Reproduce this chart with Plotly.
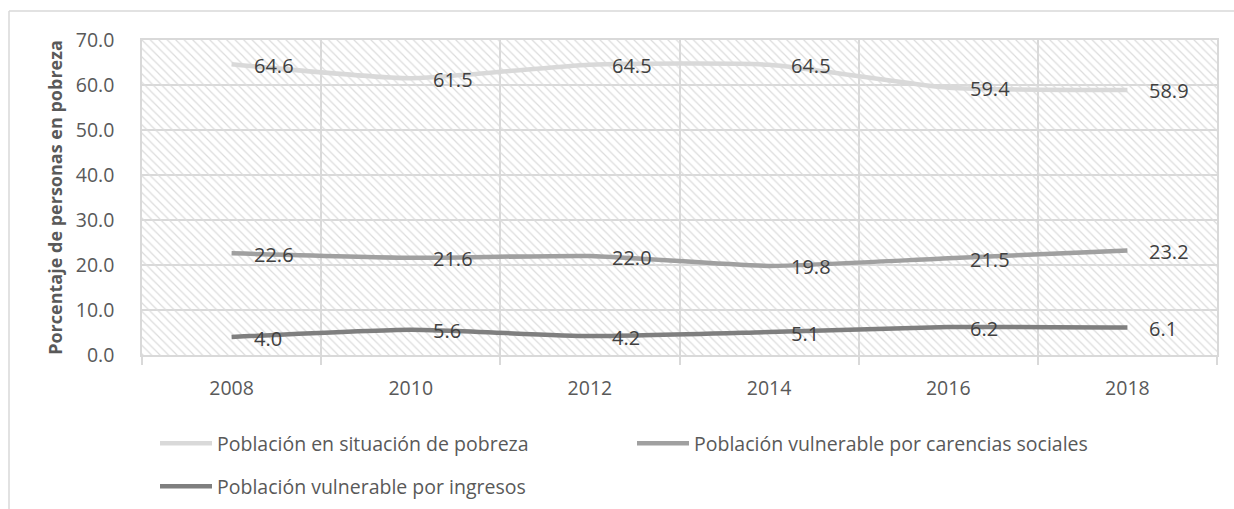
import plotly.graph_objects as go

# ---- data ----
years = ["2008", "2010", "2012", "2014", "2016", "2018"]
pobreza = [64.6, 61.5, 64.5, 64.5, 59.4, 58.9]
carencias = [22.6, 21.6, 22.0, 19.8, 21.5, 23.2]
ingresos = [4.0, 5.6, 4.2, 5.1, 6.2, 6.1]
series_names = [
    "Población en situación de pobreza",
    "Población vulnerable por carencias sociales",
    "Población vulnerable por ingresos",
]
y_title = "Porcentaje de personas en pobreza"
y_max = 70

# ---- layout constants ----
W, H = 1234, 509
ML, MR, MT, MB = 142, 17, 40, 154
PW, PH = W - ML - MR, H - MT - MB
FONT = "Open Sans"
FS = 19.5
TXT = "#595959"
LBL = "#404040"
GRID = "#d9d9d9"
colors = ["#d9d9d9", "#a0a0a0", "#7f7f7f"]


def px_x(px):
    return (px - ML) / PW


def px_y(py):
    return (H - MB - py) / PH


fig = go.Figure()

# hatched plot-area background
fig.add_trace(go.Bar(
    x=years, y=[y_max] * len(years), width=1,
    marker=dict(color="rgba(0,0,0,0)", line=dict(width=0),
                pattern=dict(shape="\\", fgcolor="#dcdcdc", size=6,
                             solidity=0.2, fillmode="replace")),
    showlegend=False, hoverinfo="skip",
))

legends = ["legend", "legend", "legend2"]
for name, vals, col, lg in zip(series_names, [pobreza, carencias, ingresos], colors, legends):
    fig.add_trace(go.Scatter(
        x=years, y=vals, name=name, mode="lines",
        line=dict(color=col, width=4.5, shape="spline", smoothing=0.5),
        legend=lg,
    ))
    for i, yv in enumerate(vals):
        fig.add_annotation(
            x=i, y=yv, text=f"{yv:.1f}", showarrow=False,
            xanchor="left", yanchor="middle", xshift=20, yshift=-1,
            font=dict(family=FONT, size=20, color=LBL),
        )

# outer frame (left and top edges)
fig.add_shape(type="line", xref="paper", yref="paper",
              x0=px_x(9), y0=px_y(H + 5), x1=px_x(9), y1=px_y(11),
              line=dict(color=GRID, width=1.5))
fig.add_shape(type="line", xref="paper", yref="paper",
              x0=px_x(9), y0=px_y(11), x1=px_x(W + 5), y1=px_y(11),
              line=dict(color=GRID, width=1.5))

fig.update_layout(
    width=W, height=H,
    margin=dict(l=ML, r=MR, t=MT, b=MB, autoexpand=False),
    paper_bgcolor="white", plot_bgcolor="white",
    font=dict(family=FONT, size=FS, color=TXT),
    bargap=0,
    showlegend=True,
    legend=dict(orientation="h", x=px_x(155), y=px_y(424), xanchor="left", yanchor="top",
                itemwidth=52, entrywidth=410, entrywidthmode="pixels",
                font=dict(family=FONT, size=FS, color=TXT), bgcolor="rgba(0,0,0,0)"),
    legend2=dict(orientation="h", x=px_x(155), y=px_y(467), xanchor="left", yanchor="top",
                 itemwidth=52,
                 font=dict(family=FONT, size=FS, color=TXT), bgcolor="rgba(0,0,0,0)"),
    xaxis=dict(
        type="category", tickson="boundaries", ticks="outside", ticklen=8,
        tickcolor=GRID, tickwidth=1.5,
        showgrid=True, gridcolor=GRID, gridwidth=1.5,
        showline=True, linecolor=GRID, linewidth=1.5, mirror=True,
        ticklabelstandoff=15, tickfont=dict(size=FS, color=TXT),
        range=[-0.5, len(years) - 0.5], fixedrange=True,
    ),
    yaxis=dict(
        range=[0, y_max], dtick=10, tickformat=".1f",
        showgrid=True, gridcolor=GRID, gridwidth=1.5,
        showline=True, linecolor=GRID, linewidth=1.5, mirror=True,
        zeroline=False, ticks="", ticklabelstandoff=22,
        tickfont=dict(size=FS, color=TXT),
        title=dict(text=f"<b>{y_title}</b>", standoff=8,
                   font=dict(size=18, color=TXT)),
        fixedrange=True,
    ),
)

fig.write_html("out.html")
